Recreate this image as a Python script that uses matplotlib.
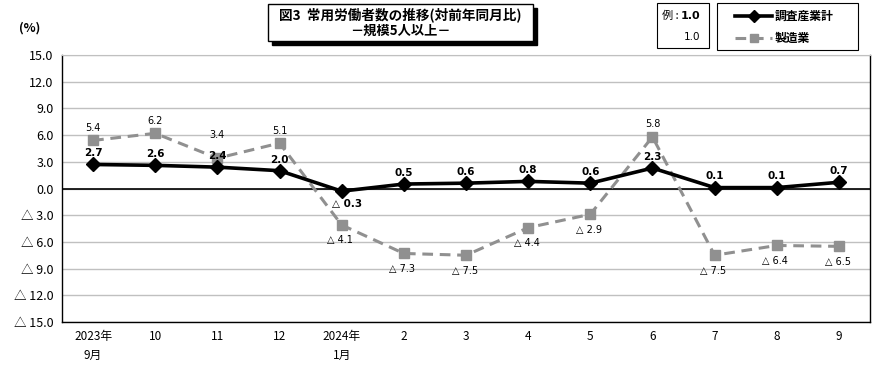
import matplotlib
matplotlib.use("Agg")
import matplotlib.pyplot as plt
from matplotlib.lines import Line2D
from matplotlib.patches import Rectangle

plt.rcParams['font.family'] = ['Noto Sans CJK JP', 'DejaVu Sans']

categories = ["2023年\n9月", "10", "11", "12", "2024年\n1月", "2", "3", "4", "5", "6", "7", "8", "9"]
total = [2.7, 2.6, 2.4, 2.0, -0.3, 0.5, 0.6, 0.8, 0.6, 2.3, 0.1, 0.1, 0.7]
manuf = [5.4, 6.2, 3.4, 5.1, -4.1, -7.3, -7.5, -4.4, -2.9, 5.8, -7.5, -6.4, -6.5]
yticks = [15, 12, 9, 6, 3, 0, -3, -6, -9, -12, -15]
series_names = ["調査産業計", "製造業"]

W, H = 890, 371
fig = plt.figure(figsize=(W / 100, H / 100), dpi=100)

def fx(px):
    return px / W

def fy(py):
    return 1 - py / H

ax = fig.add_axes([fx(62), fy(322), fx(870 - 62), (322 - 55) / H])

def fmt(v):
    return f"{v:.1f}" if v >= 0 else f"△ {abs(v):.1f}"

x = list(range(len(categories)))
ax.set_xlim(-0.5, len(categories) - 0.5)
ax.set_ylim(-15, 15)
ax.set_yticks(yticks)
ax.set_yticklabels([fmt(v) for v in yticks], fontsize=9)
ax.set_xticks(x)
ax.set_xticklabels(categories, fontsize=8.5, linespacing=1.6)
ax.tick_params(axis='both', length=0, pad=6)
for t in ax.get_xticklabels():
    t.set_verticalalignment('top')
ax.grid(axis='y', color='#c0c0c0', linewidth=1)
ax.axhline(0, color='black', linewidth=1.2, zorder=2)
for s in ['left', 'bottom', 'right']:
    ax.spines[s].set_color('black')
    ax.spines[s].set_linewidth(1)
ax.spines['top'].set_color('#c0c0c0')
ax.set_axisbelow(True)

ax.plot(x, manuf, color='#909090', linestyle=(0, (3.5, 2.2)), linewidth=2.2,
        marker='s', markersize=7, markeredgecolor='#909090', zorder=3)
ax.plot(x, total, color='black', linewidth=2.6, marker='D', markersize=7, zorder=4)

for xi, v in zip(x, total):
    if v >= 0:
        ax.annotate(fmt(v), (xi, v), xytext=(0, 8), textcoords='offset points',
                    ha='center', va='center', fontsize=7.5, fontweight='bold', family='DejaVu Sans')
    else:
        ax.annotate(fmt(v), (xi, v), xytext=(-7, -9), textcoords='offset points',
                    ha='left', va='center', fontsize=7.5, fontweight='bold', family='DejaVu Sans')

for xi, v, t in zip(x, manuf, total):
    if v >= 0:
        dy = 9
        if 0 < v - t < 1.5:
            dy = 17
        ax.annotate(fmt(v), (xi, v), xytext=(0, dy), textcoords='offset points',
                    ha='center', va='center', fontsize=7, family='DejaVu Sans')
    else:
        ax.annotate(fmt(v), (xi, v), xytext=(-1, -11), textcoords='offset points',
                    ha='center', va='center', fontsize=7, family='DejaVu Sans')

fig.text(fx(30), fy(28), "(%)", fontsize=9, fontweight='bold', ha='center', va='center')

# Title box with shadow
fig.patches.append(Rectangle((fx(272), fy(45)), fx(265), (41 - 4) / H, transform=fig.transFigure,
                             facecolor='black', edgecolor='black', zorder=1))
fig.patches.append(Rectangle((fx(268), fy(41)), fx(265), (41 - 4) / H, transform=fig.transFigure,
                             facecolor='white', edgecolor='black', linewidth=1, zorder=2))
fig.text(fx(400), fy(15), "図3  常用労働者数の推移(対前年同月比)", fontsize=9.8, fontweight='bold',
         ha='center', va='center', zorder=3)
fig.text(fx(400), fy(31), "－規模5人以上－", fontsize=9.5, fontweight='bold',
         ha='center', va='center', zorder=3)

# Example box
fig.patches.append(Rectangle((fx(657), fy(48)), fx(52), (48 - 3) / H, transform=fig.transFigure,
                             facecolor='white', edgecolor='black', linewidth=0.8))
fig.text(fx(662), fy(16), "例 :", fontsize=8, ha='left', va='center')
fig.text(fx(700), fy(16), "1.0", fontsize=8, fontweight='bold', ha='right', va='center', family='DejaVu Sans')
fig.text(fx(700), fy(37), "1.0", fontsize=7.5, ha='right', va='center', family='DejaVu Sans')

# Legend box
fig.patches.append(Rectangle((fx(717), fy(50)), fx(141), (50 - 3) / H, transform=fig.transFigure,
                             facecolor='white', edgecolor='black', linewidth=0.8))
fig.lines.append(Line2D([fx(735), fx(772)], [fy(16), fy(16)], transform=fig.transFigure,
                        color='black', linewidth=2.6))
fig.lines.append(Line2D([fx(753.5)], [fy(16)], transform=fig.transFigure, color='black',
                        marker='D', markersize=6))
fig.lines.append(Line2D([fx(735), fx(772)], [fy(38), fy(38)], transform=fig.transFigure,
                        color='#909090', linewidth=2.2, linestyle=(0, (3.5, 2.2))))
fig.lines.append(Line2D([fx(753.5)], [fy(38)], transform=fig.transFigure, color='#909090',
                        marker='s', markersize=6))
fig.text(fx(775), fy(16), series_names[0], fontsize=8.5, fontweight='bold', ha='left', va='center')
fig.text(fx(775), fy(38), series_names[1], fontsize=8.5, fontweight='bold', ha='left', va='center')

fig.savefig("out.png", dpi=100)
